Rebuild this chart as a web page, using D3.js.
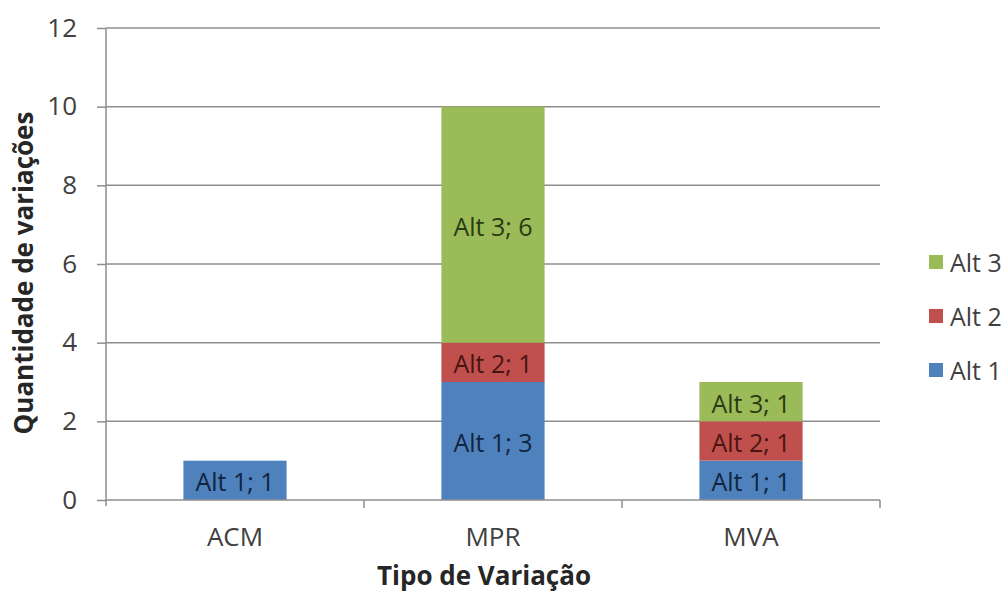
<!DOCTYPE html>
<html><head><meta charset="utf-8">
<script src="https://cdn.jsdelivr.net/npm/d3@7"></script>
<style>body{margin:0;background:#fff;} text{font-family:"Open Sans",Calibri,sans-serif;}</style>
</head><body>
<svg id="c" width="1008" height="596"></svg>
<script>
const categories = ["ACM","MPR","MVA"];
const seriesNames = ["Alt 1","Alt 2","Alt 3"];
const alt1 = [1,3,1];
const alt2 = [0,1,1];
const alt3 = [0,6,1];
const yTicks = [0,2,4,6,8,10,12];
const colors = ["#4f81bd","#c0504d","#9bbb59"];
const labelColors = ["#10253f","#4a1412","#2a3a12"];

const svg = d3.select("#c");
const L=106,R=880,T=28,B=500;
const x = d3.scaleBand().domain(categories).range([L,R]).paddingInner(0.6).paddingOuter(0.3);
const y = d3.scaleLinear().domain([0,12]).range([B,T]);

// gridlines
svg.append("g").selectAll("line").data(yTicks.filter(d=>d>0)).join("line")
  .attr("x1",L).attr("x2",R).attr("y1",d=>y(d)).attr("y2",d=>y(d))
  .attr("stroke","#8e8e8e").attr("stroke-width",1.5);

const table = categories.map((c,i)=>({cat:c,"Alt 1":alt1[i],"Alt 2":alt2[i],"Alt 3":alt3[i]}));
const stack = d3.stack().keys(seriesNames)(table);

stack.forEach((s,si)=>{
  const g = svg.append("g");
  s.forEach(d=>{
    const v = d[1]-d[0];
    if(v<=0) return;
    g.append("rect").attr("x",x(d.data.cat)).attr("width",x.bandwidth())
      .attr("y",y(d[1])).attr("height",y(d[0])-y(d[1])).attr("fill",colors[si]);
    g.append("text").attr("x",x(d.data.cat)+x.bandwidth()/2).attr("y",(y(d[0])+y(d[1]))/2+1)
      .attr("text-anchor","middle").attr("dominant-baseline","central")
      .attr("font-size",25).attr("fill",labelColors[si]).text(s.key+"; "+v);
  });
});

// y axis
const ya = svg.append("g").attr("transform",`translate(${L},0)`)
  .call(d3.axisLeft(y).tickValues(yTicks).tickSize(9).tickPadding(20));
ya.select(".domain").attr("stroke","#8e8e8e").attr("stroke-width",1.5).attr("d",`M0,${T}V${B+6}`);
ya.selectAll(".tick line").attr("stroke","#8e8e8e").attr("stroke-width",1.5);
ya.selectAll(".tick text").attr("font-size",26).attr("fill","#404040").attr("font-family","Open Sans");

// x axis
const xa = svg.append("g").attr("transform",`translate(0,${B})`)
  .call(d3.axisBottom(x).tickSize(0).tickPadding(28));
xa.select(".domain").attr("stroke","#8e8e8e").attr("stroke-width",1.5).attr("d",`M${L},0H${R}`);
xa.selectAll(".tick text").attr("font-size",26).attr("fill","#404040").attr("font-family","Open Sans");
const bounds = [...categories.map(c=>x(c)+x.bandwidth()+x.step()*x.paddingInner()/2)];
xa.append("g").selectAll("line").data(bounds).join("line")
  .attr("x1",d=>d).attr("x2",d=>d).attr("y1",0).attr("y2",8)
  .attr("stroke","#8e8e8e").attr("stroke-width",1.5);

// axis titles
svg.append("text").attr("x",484).attr("y",585).attr("text-anchor","middle")
  .attr("font-size",26).attr("font-weight","bold").attr("fill","#262626").text("Tipo de Variação");
svg.append("text").attr("transform",`translate(33,273) rotate(-90)`).attr("text-anchor","middle")
  .attr("font-size",26).attr("font-weight","bold").attr("fill","#262626").text("Quantidade de variações");

// legend
const leg = svg.append("g");
const legOrder = [2,1,0];
legOrder.forEach((si,k)=>{
  const yy = 262 + k*54;
  leg.append("rect").attr("x",929).attr("y",yy-7).attr("width",14).attr("height",14).attr("fill",colors[si]);
  leg.append("text").attr("x",950).attr("y",yy).attr("dominant-baseline","central")
    .attr("font-size",25).attr("fill","#404040").text(seriesNames[si]);
});
</script>
</body></html>
